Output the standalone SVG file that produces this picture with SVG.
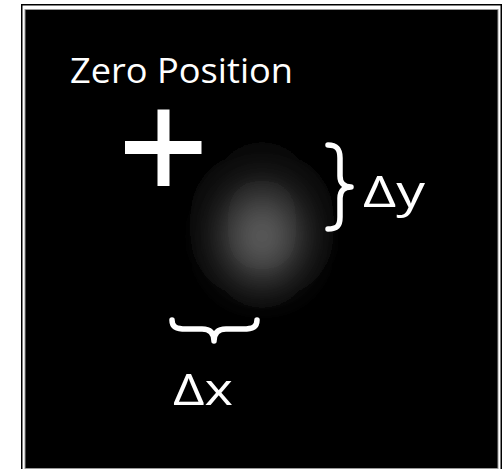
<svg xmlns="http://www.w3.org/2000/svg" width="504" height="469" viewBox="0 0 504 469">
<style>
.lbl{fill:#fff;font-family:"Open Sans","Liberation Sans",sans-serif}
.brace{fill:none;stroke:#fff;stroke-width:5.5;stroke-linecap:round;stroke-linejoin:round}
</style>
<defs>
<filter id="blur" x="-2" y="-2" width="5" height="5"><feGaussianBlur stdDeviation="22"/></filter>
<filter id="blur2" x="-2" y="-2" width="5" height="5"><feGaussianBlur stdDeviation="28"/></filter>
</defs>
<rect width="504" height="469" fill="#fff"/>
<g id="frame">
<rect x="21.75" y="4.75" width="479.5" height="470" fill="none" stroke="#000" stroke-width="1.5"/>
<rect x="25" y="9.5" width="473" height="459" fill="#000" stroke="#9a9a9a" stroke-width="1"/>
</g>
<g id="spot">
<ellipse cx="262" cy="225" rx="55" ry="70" fill="#151515" filter="url(#blur2)"/>
<ellipse cx="262" cy="236" rx="36" ry="44" fill="#626262" filter="url(#blur)"/>
</g>
<g id="zero">
<text class="lbl" x="70" y="83" font-size="35" textLength="223" lengthAdjust="spacingAndGlyphs">Zero Position</text>
<rect x="157.5" y="109.5" width="12" height="76.5" fill="#fff"/>
<rect x="125" y="141" width="76.5" height="13" fill="#fff"/>
</g>
<g id="connectors">
<path class="brace" d="M328,145 C337,145 340,149 340,158 L340,176 C340,183 344,187 351,187 C344,187 340,191 340,198 L340,217 C340,226 337,229 328,229"/>
<path class="brace" d="M172,320 C172,327 176,329 186,329 L202,329 C210,329 214,333 214,341 C214,333 218,329 226,329 L243,329 C253,329 257,327 257,320"/>
</g>
<g id="dy">
<text class="lbl" x="363" y="207" font-size="43" textLength="62" lengthAdjust="spacingAndGlyphs">Δy</text>
</g>
<g id="dx">
<text class="lbl" x="173" y="405" font-size="43" textLength="60" lengthAdjust="spacingAndGlyphs">Δx</text>
</g>
</svg>
